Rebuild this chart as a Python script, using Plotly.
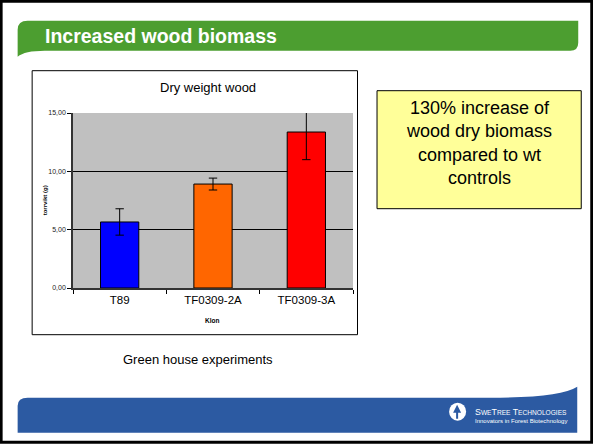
import plotly.graph_objects as go

# ---- data ----
categories = ["T89", "TF0309-2A", "TF0309-3A"]
dry_weight = [5.66, 8.91, 13.37]
error = [1.13, 0.51, 2.37]
bar_colors = ["#0000FF", "#FF6600", "#FF0000"]
y_ticks = [0, 5, 10, 15]
Y_MAX = 15

# ---- layout geometry (pixels) ----
WIDTH, HEIGHT = 593, 444
L, R, T, B = 73.3, 353.0, 113.3, 288.3


def fx(x):
    return (x - L) / (R - L)


def fy(y):
    return (B - y) / (B - T)


FONT = "Arial, Liberation Sans, sans-serif"

# error bar stems stop at the top of the axis (as in the original), caps drawn separately
err_up_visible = [min(e, Y_MAX - v) for v, e in zip(dry_weight, error)]

fig = go.Figure()
fig.add_trace(go.Bar(
    x=categories, y=dry_weight,
    marker=dict(color=bar_colors, line=dict(color="black", width=1)),
    error_y=dict(type="data", array=err_up_visible, arrayminus=error,
                 symmetric=False, visible=True, color="black",
                 thickness=1, width=0),
    showlegend=False, hoverinfo="skip",
))
cap_y = [v + e for v, e in zip(dry_weight, error)] + [v - e for v, e in zip(dry_weight, error)]
fig.add_trace(go.Scatter(
    x=categories + categories, y=cap_y,
    mode="markers", cliponaxis=False,
    marker=dict(symbol="line-ew", size=6, line=dict(color="black", width=1)),
    showlegend=False, hoverinfo="skip",
))

shapes = []
# slide border
shapes.append(dict(type="rect", xref="paper", yref="paper",
                   x0=fx(1.5), x1=fx(591.5), y0=fy(1.5), y1=fy(442.5),
                   line=dict(color="black", width=3), layer="below"))


def path(points):
    s = ""
    for cmd, pts in points:
        s += cmd + " " + " ".join(f"{fx(a):.5f},{fy(b):.5f}" for a, b in pts) + " "
    return s + "Z"


# green header banner
shapes.append(dict(type="path", xref="paper", yref="paper", layer="below",
                   path=path([("M", [(18, 57)]), ("L", [(18, 30)]),
                              ("Q", [(18, 21), (28, 21)]), ("L", [(578, 21)]),
                              ("L", [(578, 43)]), ("Q", [(578, 51), (570, 51)]),
                              ("L", [(45, 51)]), ("Q", [(25, 51), (18, 57)])]),
                   fillcolor="#4C9E30", line=dict(width=0)))
# blue footer banner
shapes.append(dict(type="path", xref="paper", yref="paper", layer="below",
                   path=path([("M", [(18, 433)]), ("L", [(18, 406)]),
                              ("Q", [(18, 398), (28, 398)]), ("L", [(490, 398)]),
                              ("Q", [(560, 398), (577, 387)]), ("L", [(577, 433)])]),
                   fillcolor="#2C5AA2", line=dict(width=0)))
# logo circle
shapes.append(dict(type="circle", xref="paper", yref="paper", layer="below",
                   x0=fx(449), x1=fx(466), y0=fy(403), y1=fy(421),
                   fillcolor="white", line=dict(width=0)))
shapes.append(dict(type="path", xref="paper", yref="paper", layer="below",
                   path=path([("M", [(457, 405)]), ("L", [(461, 413)]),
                              ("L", [(458, 413)]), ("L", [(458, 419)]),
                              ("L", [(456, 419)]), ("L", [(456, 413)]),
                              ("L", [(453, 413)])]),
                   fillcolor="#2C5AA2", line=dict(width=0)))
# chart frame
shapes.append(dict(type="rect", xref="paper", yref="paper", layer="below",
                   x0=fx(32.5), x1=fx(357.5), y0=fy(71), y1=fy(335),
                   fillcolor="white", line=dict(color="black", width=1)))
# grey plot area (drawn above the white frame)
shapes.append(dict(type="rect", xref="paper", yref="paper", layer="below",
                   x0=0, x1=1, y0=0, y1=1,
                   fillcolor="#C0C0C0", line=dict(width=0)))
# yellow text box
shapes.append(dict(type="rect", xref="paper", yref="paper", layer="below",
                   x0=fx(377), x1=fx(581), y0=fy(91), y1=fy(209),
                   fillcolor="#FFFF99", line=dict(color="black", width=1)))

annotations = [
    dict(text="<b>Increased wood biomass</b>", x=fx(43.5), y=fy(36), xanchor="left",
         yanchor="middle", font=dict(family=FONT, size=19.5, color="white")),
    dict(text="Dry weight wood", x=fx(208), y=fy(88), xanchor="center",
         yanchor="middle", font=dict(family=FONT, size=13, color="black")),
    dict(text="<b>torrvikt (g)</b>", x=fx(45), y=fy(201), textangle=-90,
         xanchor="center", yanchor="middle",
         font=dict(family=FONT, size=6, color="black")),
    dict(text="<b>Klon</b>", x=fx(212), y=fy(321), xanchor="center",
         yanchor="middle", font=dict(family=FONT, size=6.5, color="black")),
    dict(text="130% increase of<br>wood dry biomass<br>compared to wt<br>controls",
         x=fx(479), y=fy(143), xanchor="center", yanchor="middle",
         font=dict(family=FONT, size=18, color="black")),
    dict(text="Green house experiments", x=fx(198.5), y=fy(359.5),
         xanchor="center", yanchor="middle",
         font=dict(family=FONT, size=13, color="black")),
    dict(text="S<span style='font-size:6.6px'>WE</span>T<span style='font-size:6.6px'>REE</span> "
              "T<span style='font-size:6.6px'>ECHNOLOGIES</span>",
         x=fx(473), y=fy(412.5), xanchor="left", yanchor="middle",
         font=dict(family=FONT, size=8.8, color="white")),
    dict(text="Innovators in Forest Biotechnology", x=fx(473), y=fy(421.5),
         xanchor="left", yanchor="middle",
         font=dict(family=FONT, size=6, color="white")),
]
for a in annotations:
    a.update(xref="paper", yref="paper", showarrow=False)

fig.update_layout(
    width=WIDTH, height=HEIGHT,
    margin=dict(l=L, r=WIDTH - R, t=T, b=HEIGHT - B, pad=0),
    paper_bgcolor="white", plot_bgcolor="rgba(0,0,0,0)",
    separators=",.",
    bargap=0.59,
    shapes=shapes, annotations=annotations,
    xaxis=dict(type="category", showgrid=False, ticks="outside", ticklen=4,
               tickson="boundaries", tickcolor="black", showline=True,
               linecolor="#333333", linewidth=1.5,
               tickfont=dict(family=FONT, size=11.5, color="black"),
               fixedrange=True),
    yaxis=dict(range=[0, Y_MAX], tickvals=y_ticks, tickformat=".2f",
               showgrid=True, gridcolor="black", gridwidth=1,
               zeroline=False, showline=True, linecolor="#333333", linewidth=1.5,
               ticks="outside", ticklen=4, tickcolor="black",
               tickfont=dict(family=FONT, size=7, color="#222222"),
               fixedrange=True),
    font=dict(family=FONT),
)

fig.write_html("out.html", config={"displayModeBar": False},
               post_script="document.body.style.margin='0';document.body.style.padding='0';")
